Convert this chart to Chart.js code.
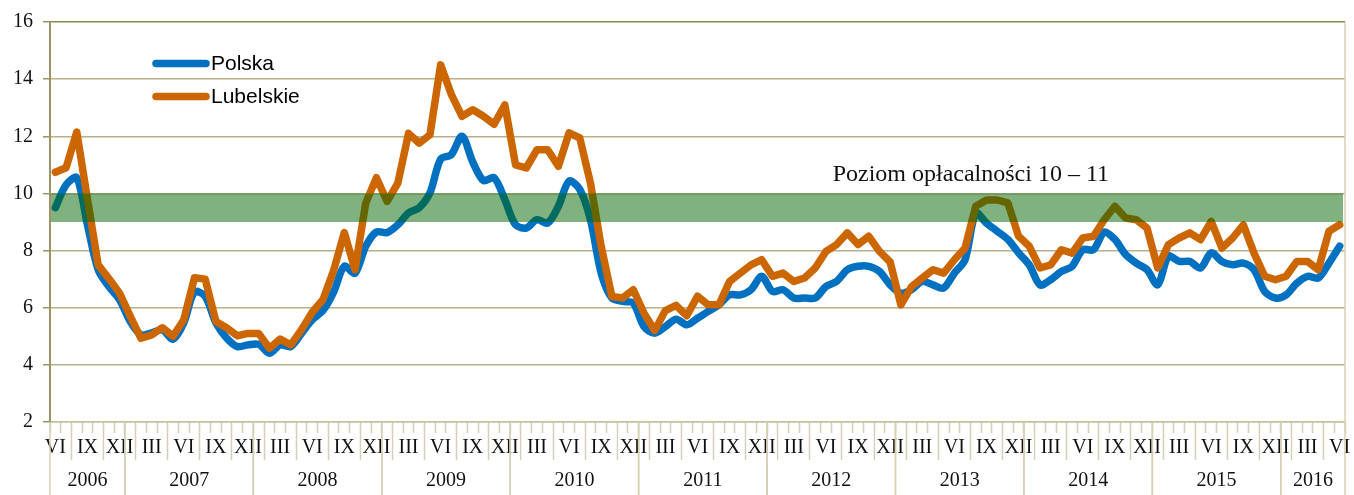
<!DOCTYPE html>
<html>
<head>
<meta charset="utf-8">
<script src="https://cdn.jsdelivr.net/npm/chart.js@4"></script>
<style>
  html, body { margin: 0; padding: 0; background: #fff; }
  #wrap { width: 1354px; height: 495px; }
</style>
</head>
<body>
<div id="wrap"><canvas id="chartdiv" width="1354" height="495"></canvas></div>
<script>
// monthly data VI 2006 - VI 2016
var startYear = 2006;
var startMonth = 6;
var romans = ["I", "II", "III", "IV", "V", "VI", "VII", "VIII", "IX", "X", "XI", "XII"];
var shownMonths = ["III", "VI", "IX", "XII"];

var polska = [
    9.5, 10.3, 10.55, 8.9, 7.33, 6.74, 6.28, 5.52, 5.05, 5.12, 5.22, 4.9,
    5.47, 6.55, 6.4, 5.47, 4.94, 4.64, 4.7, 4.72, 4.41, 4.7, 4.64, 5.1,
    5.58, 5.9, 6.55, 7.45, 7.21, 8.15, 8.65, 8.63, 8.9, 9.32, 9.5, 10.02,
    11.2, 11.36, 12.0, 11.1, 10.45, 10.55, 9.78, 8.9, 8.79, 9.08, 8.96, 9.55,
    10.43, 10.14, 9.08, 7.21, 6.34, 6.22, 6.16, 5.34, 5.11, 5.34, 5.6, 5.4,
    5.63, 5.87, 6.1, 6.45, 6.45, 6.63, 7.1, 6.57, 6.63, 6.34, 6.34, 6.34,
    6.74, 6.92, 7.33, 7.45, 7.45, 7.27, 6.8, 6.51, 6.63, 6.92, 6.8, 6.69,
    7.21, 7.68, 9.32, 8.96, 8.68, 8.39, 7.92, 7.5, 6.8, 6.98, 7.27, 7.45,
    8.03, 8.03, 8.65, 8.39, 7.86, 7.56, 7.33, 6.8, 7.8, 7.62, 7.62, 7.39,
    7.92, 7.62, 7.5, 7.56, 7.33, 6.57, 6.34, 6.45, 6.86, 7.1, 7.04, 7.56,
    8.15
];

var lubelskie = [
    10.74, 10.9, 12.15, 9.8, 7.5, 7.02, 6.51, 5.7, 4.93, 5.05, 5.3, 5.0,
    5.58, 7.05, 7.0, 5.52, 5.3, 5.02, 5.1, 5.1, 4.58, 4.9, 4.7, 5.23,
    5.84, 6.28, 7.3, 8.63, 7.33, 9.66, 10.55, 9.72, 10.36, 12.1, 11.76, 12.05,
    14.5, 13.46, 12.7, 12.93, 12.7, 12.42, 13.1, 11.0, 10.89, 11.53, 11.53, 10.95,
    12.12, 11.94, 10.36, 8.15, 6.39, 6.34, 6.63, 5.81, 5.2, 5.9, 6.08, 5.72,
    6.4, 6.1, 6.1, 6.92, 7.21, 7.5, 7.68, 7.1, 7.21, 6.92, 7.04, 7.39,
    7.97, 8.21, 8.62, 8.21, 8.5, 7.97, 7.6, 6.1, 6.74, 7.04, 7.33, 7.21,
    7.68, 8.09, 9.55, 9.77, 9.77, 9.67, 8.5, 8.15, 7.39, 7.5, 8.03, 7.91,
    8.44, 8.5, 9.08, 9.55, 9.14, 9.08, 8.79, 7.39, 8.21, 8.44, 8.62, 8.38,
    9.02, 8.09, 8.44, 8.9, 7.91, 7.1, 6.98, 7.1, 7.62, 7.62, 7.33, 8.68,
    8.9
];

var bandLow = 9;
var bandHigh = 10;
var bandText = "Poziom opłacalności 10 – 11";

var monthLabels = [];
var yearLabels = [];
for (var i = 0; i < polska.length; i++) {
    var m = (startMonth - 1 + i) % 12;
    monthLabels.push(romans[m]);
    yearLabels.push(String(startYear + Math.floor((startMonth - 1 + i) / 12)));
}

var serif = "'Liberation Serif', 'Times New Roman', serif";
var sans = "'Liberation Sans', Arial, sans-serif";
var tickColor = "#d6cfb4";

var extrasPlugin = {
    id: "extras",
    beforeDatasetsDraw: function (chart) {
        var ctx = chart.ctx;
        var x = chart.scales.x, y = chart.scales.y;
        ctx.save();
        ctx.font = "24px " + serif;
        var tx = x.getPixelForValue(73) - 4;
        var w = ctx.measureText(bandText).width;
        ctx.fillStyle = "#fff";
        ctx.fillRect(tx - 9, y.getPixelForValue(11.5), w + 31, y.getPixelForValue(bandHigh) - y.getPixelForValue(11.5) - 0.5);
        ctx.restore();
    },
    afterDatasetsDraw: function (chart) {
        var ctx = chart.ctx;
        var a = chart.chartArea;
        var x = chart.scales.x, y = chart.scales.y;
        ctx.save();
        // green band
        var top = y.getPixelForValue(bandHigh), bot = y.getPixelForValue(bandLow);
        ctx.fillStyle = "rgba(0,102,0,0.5)";
        ctx.fillRect(a.left + 1, top, a.right - a.left - 3, bot - top);

        // band caption
        ctx.font = "24px " + serif;
        ctx.fillStyle = "#111";
        ctx.textAlign = "left";
        ctx.textBaseline = "alphabetic";
        ctx.fillText(bandText, x.getPixelForValue(73) - 4, y.getPixelForValue(10.45));

        // legend
        chart.data.datasets.forEach(function (ds, k) {
            var ly = a.top + 41.5 + k * 33;
            ctx.strokeStyle = ds.borderColor;
            ctx.lineWidth = 7.5;
            ctx.lineCap = "round";
            ctx.beginPath();
            ctx.moveTo(a.left + 106, ly);
            ctx.lineTo(a.left + 156, ly);
            ctx.stroke();
            ctx.font = "21px " + sans;
            ctx.fillStyle = "#000";
            ctx.textBaseline = "middle";
            ctx.fillText(ds.label, a.left + 161, ly + 1);
        });
        ctx.restore();
    },
    afterDraw: function (chart) {
        var ctx = chart.ctx;
        var a = chart.chartArea;
        var x = chart.scales.x;
        var half = (x.getPixelForValue(1) - x.getPixelForValue(0)) / 2;
        ctx.save();
        ctx.strokeStyle = tickColor;
        ctx.lineWidth = 1.5;
        ctx.font = "20px " + serif;
        ctx.fillStyle = "#111";
        ctx.textAlign = "center";
        ctx.textBaseline = "middle";
        var first = 0;
        for (var i = 1; i <= yearLabels.length; i++) {
            if (i === yearLabels.length || yearLabels[i] !== yearLabels[first]) {
                var x0 = x.getPixelForValue(first) - half;
                var x1 = x.getPixelForValue(i - 1) + half;
                ctx.beginPath();
                ctx.moveTo(x0, a.bottom);
                ctx.lineTo(x0, chart.height);
                ctx.moveTo(x1, a.bottom);
                ctx.lineTo(x1, chart.height);
                ctx.stroke();
                ctx.fillText(yearLabels[first], (x0 + x1) / 2, a.bottom + 59);
                first = i;
            }
        }
        // right frame line
        ctx.beginPath();
        ctx.moveTo(a.right, a.top);
        ctx.lineTo(a.right, a.bottom);
        ctx.stroke();
        ctx.restore();
    }
};

new Chart("chartdiv", {
    type: "line",
    data: {
        labels: monthLabels,
        datasets: [{
            label: "Polska",
            data: polska,
            borderColor: "#0070c0",
            borderWidth: 7.5,
            tension: 0.3,
            pointRadius: 0,
            borderJoinStyle: "round",
            borderCapStyle: "round",
            order: 1
        }, {
            label: "Lubelskie",
            data: lubelskie,
            borderColor: "#cc6600",
            borderWidth: 7.5,
            tension: 0,
            pointRadius: 0,
            borderJoinStyle: "round",
            borderCapStyle: "round",
            order: 0
        }]
    },
    options: {
        responsive: false,
        animation: false,
        layout: { padding: { top: 22, right: 9, left: 0, bottom: 0 } },
        plugins: {
            legend: { display: false },
            tooltip: { enabled: false }
        },
        scales: {
            x: {
                type: "category",
                offset: true,
                afterFit: function (s) { s.height = 73; },
                grid: {
                    offset: true,
                    drawOnChartArea: false,
                    tickLength: 38,
                    tickColor: tickColor,
                    tickWidth: 1.5
                },
                border: { color: "#c9c1a0", width: 1.5 },
                ticks: {
                    autoSkip: false,
                    maxRotation: 0,
                    padding: -24,
                    color: "#111",
                    font: { family: serif, size: 20 },
                    showLabelBackdrop: true,
                    backdropColor: function (c) {
                        return c.tick && c.tick.label ? "#fff" : "rgba(0,0,0,0)";
                    },
                    backdropPadding: { x: 1, y: 3 },
                    callback: function (v, i) {
                        var m = monthLabels[i];
                        return shownMonths.indexOf(m) >= 0 ? m : "";
                    }
                }
            },
            y: {
                min: 2,
                max: 16,
                afterFit: function (s) { s.width = 50; },
                grid: {
                    color: function (c) { return c.tick.value === 16 ? "#8f8550" : "#b9b08a"; },
                    lineWidth: 1.5,
                    tickLength: 7,
                    tickColor: "#9c9266"
                },
                border: { color: "#9c9266", width: 2 },
                ticks: {
                    stepSize: 2,
                    padding: 10,
                    color: "#111",
                    font: { family: serif, size: 20 }
                }
            }
        }
    },
    plugins: [extrasPlugin]
});
</script>
</body>
</html>
